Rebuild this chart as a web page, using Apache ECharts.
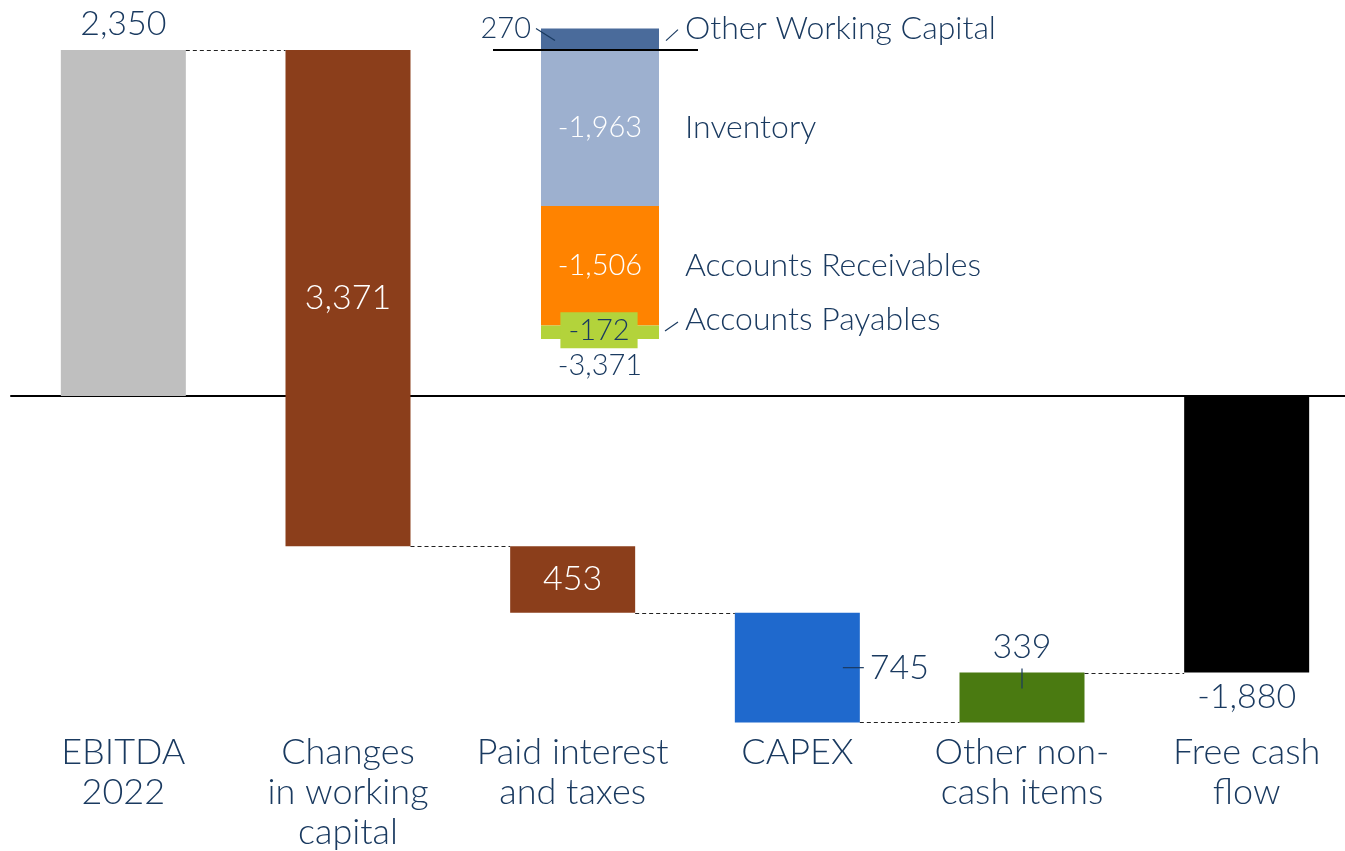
<!DOCTYPE html>
<html>
<head>
<meta charset="utf-8">
<script src="https://cdn.jsdelivr.net/npm/echarts@6/dist/echarts.min.js"></script>
<style>
html,body{margin:0;padding:0;background:#fff;overflow:hidden;}
#chart{width:1362px;height:851px;}
</style>
</head>
<body>
<div id="chart"></div>
<script>
// ---- data ----
const categories = ['EBITDA\n2022', 'Changes\nin working\ncapital', 'Paid interest\nand taxes', 'CAPEX', 'Other non-\ncash items', 'Free cash\nflow'];
const values = [2350, -3371, -453, -745, 339, -1880];
const isTotal = [true, false, false, false, false, true];
const wcNames = ['Other Working Capital', 'Inventory', 'Accounts Receivables', 'Accounts Payables'];
const wcValues = [270, -1963, -1506, -172];
const wcTotal = -3371;

// ---- styles ----
const barColors = ['#bfbfbf', '#8b3e1b', '#8b3e1b', '#1f69cd', '#4a7a11', '#000000'];
const wcColors = ['#4a6b9b', '#9db0cf', '#ff8300', '#b3d33b'];
const labelPlace = ['top', 'inside', 'inside', 'right', 'top', 'bottom'];
const navy = '#1a3a60';
const FONT = 'Lato';
const FW = 300;

const fmt = n => (n < 0 ? '-' : '') + Math.abs(n).toLocaleString('en-US');

// waterfall geometry built from values
let cum = 0;
const mainData = values.map((v, i) => {
  let low, high, label;
  if (isTotal[i]) {
    low = Math.min(0, v); high = Math.max(0, v); cum = v; label = fmt(v);
  } else {
    const s = cum, e = cum + v;
    low = Math.min(s, e); high = Math.max(s, e); cum = e; label = fmt(Math.abs(v));
  }
  return [i, low, high, cum, v, label];
});

// inset stacked data (positives up, negatives down)
let pos = 0, neg = 0;
const wcData = wcValues.map((v, i) => {
  let a, b;
  if (v >= 0) { a = pos; b = pos + v; pos = b; } else { a = neg; b = neg + v; neg = b; }
  return [0, Math.min(a, b), Math.max(a, b), v, i];
});

const chart = echarts.init(document.getElementById('chart'), null, {renderer: 'canvas'});

function txt(x, y, text, opt) {
  return {
    type: 'text', z2: 10,
    style: Object.assign({
      x: x, y: y, text: text, fill: navy,
      font: FW + ' 34px ' + FONT, align: 'center', verticalAlign: 'middle'
    }, opt || {})
  };
}
function ln(x1, y1, x2, y2, stroke, w, dash) {
  return {type: 'line', z2: 5, shape: {x1, y1, x2, y2}, style: {stroke: stroke || navy, lineWidth: w || 1.2, lineDash: dash || null}};
}

const BW = 125;
function renderMain(params, api) {
  const i = api.value(0), low = api.value(1), high = api.value(2), lvl = api.value(3);
  const t = api.coord([i, high]), b = api.coord([i, low]);
  const cx = t[0], x0 = cx - BW / 2;
  const ch = [{type: 'rect', shape: {x: x0, y: t[1], width: BW, height: b[1] - t[1]}, style: {fill: barColors[i]}}];
  if (i < categories.length - 1) {
    const p = api.coord([i, lvl]), q = api.coord([i + 1, lvl]);
    ch.push(ln(p[0] + BW / 2, Math.round(p[1]) + 0.5, q[0] - BW / 2, Math.round(q[1]) + 0.5, '#222', 1, [4, 3]));
  }
  const lab = mainData[i][5];
  const pl = labelPlace[i];
  if (pl === 'top') {
    ch.push(txt(cx, t[1] - 26, lab));
    if (i === 4) ch.push(ln(cx, t[1] - 4, cx, t[1] + 16));
  } else if (pl === 'bottom') {
    ch.push(txt(cx, b[1] + 24, lab));
  } else if (pl === 'inside') {
    ch.push(txt(cx, (t[1] + b[1]) / 2, lab, {fill: '#fff'}));
  } else if (pl === 'right') {
    const my = (t[1] + b[1]) / 2;
    ch.push(ln(x0 + BW - 17, my, x0 + BW + 4, my));
    ch.push(txt(x0 + BW + 10, my, lab, {align: 'left'}));
  }
  return {type: 'group', children: ch};
}

function renderWC(params, api) {
  const low = api.value(1), high = api.value(2), v = api.value(3), k = api.value(4);
  const t = api.coord([0, high]), b = api.coord([0, low]);
  const bw = api.size([1, 0])[0];
  const x0 = t[0] - bw / 2, x1 = t[0] + bw / 2, cx = t[0];
  const my = (t[1] + b[1]) / 2;
  const nf = FW + ' 32px ' + FONT, vf = FW + ' 29px ' + FONT;
  const ch = [{type: 'rect', shape: {x: x0, y: t[1], width: bw, height: b[1] - t[1]}, style: {fill: wcColors[k]}}];
  if (k === 0) {
    const z = api.coord([0, 0]);
    ch.push(ln(x0 - 48, z[1], x1 + 39, z[1], '#000', 2));
    ch.push(txt(x0 - 10, t[1], fmt(v), {align: 'right', font: vf}));
    ch.push(ln(x0 - 5, t[1], x0 + 14, t[1] + 12));
    ch.push(ln(x1 + 7, t[1] + 12, x1 + 19, t[1] + 1));
    ch.push(txt(x1 + 26, t[1], wcNames[k], {align: 'left', font: nf}));
  } else if (k === wcValues.length - 1) {
    ch.push(txt(cx - 1, my - 2, fmt(v), {font: vf, backgroundColor: wcColors[k], padding: [4, 8, 3, 8]}));
    ch.push(ln(x1 + 6, b[1] - 8, x1 + 19, b[1] - 17));
    ch.push(txt(x1 + 26, b[1] - 19, wcNames[k], {align: 'left', font: nf}));
    ch.push(txt(cx, b[1] + 27, fmt(wcTotal), {font: vf}));
  } else {
    ch.push(txt(cx, my, fmt(v), {fill: '#fff', font: vf}));
    ch.push(txt(x1 + 26, my, wcNames[k], {align: 'left', font: nf}));
  }
  return {type: 'group', children: ch};
}

const option = {
  backgroundColor: '#fff',
  animation: false,
  grid: [
    {left: 11, width: 1348, top: 50, height: 680, outerBoundsMode: 'none'},
    {left: 541, width: 118, top: 26.2, height: 317.6, outerBoundsMode: 'none'}
  ],
  xAxis: [
    {type: 'category', gridIndex: 0, data: categories,
     axisLine: {show: false, onZero: false}, axisTick: {show: false},
     axisLabel: {margin: 2, color: navy, fontFamily: FONT, fontWeight: FW, fontSize: 36, lineHeight: 40, interval: 0}},
    {type: 'category', gridIndex: 0, data: categories, position: 'bottom',
     axisLine: {show: true, onZero: true, lineStyle: {color: '#000', width: 2}},
     axisTick: {show: false}, axisLabel: {show: false}},
    {type: 'category', gridIndex: 1, data: ['WC'], show: false}
  ],
  yAxis: [
    {type: 'value', gridIndex: 0, min: -2270, max: 2350, show: false, splitLine: {show: false}},
    {type: 'value', gridIndex: 1, min: -3700, max: 300, show: false, splitLine: {show: false}}
  ],
  series: [
    {type: 'custom', xAxisIndex: 0, yAxisIndex: 0, data: mainData, renderItem: renderMain, clip: false,
     encode: {x: 0, y: [1, 2]}},
    {type: 'custom', xAxisIndex: 2, yAxisIndex: 1, data: wcData, renderItem: renderWC, clip: false,
     encode: {x: 0, y: [1, 2]}}
  ]
};
chart.setOption(option);
</script>
</body>
</html>
